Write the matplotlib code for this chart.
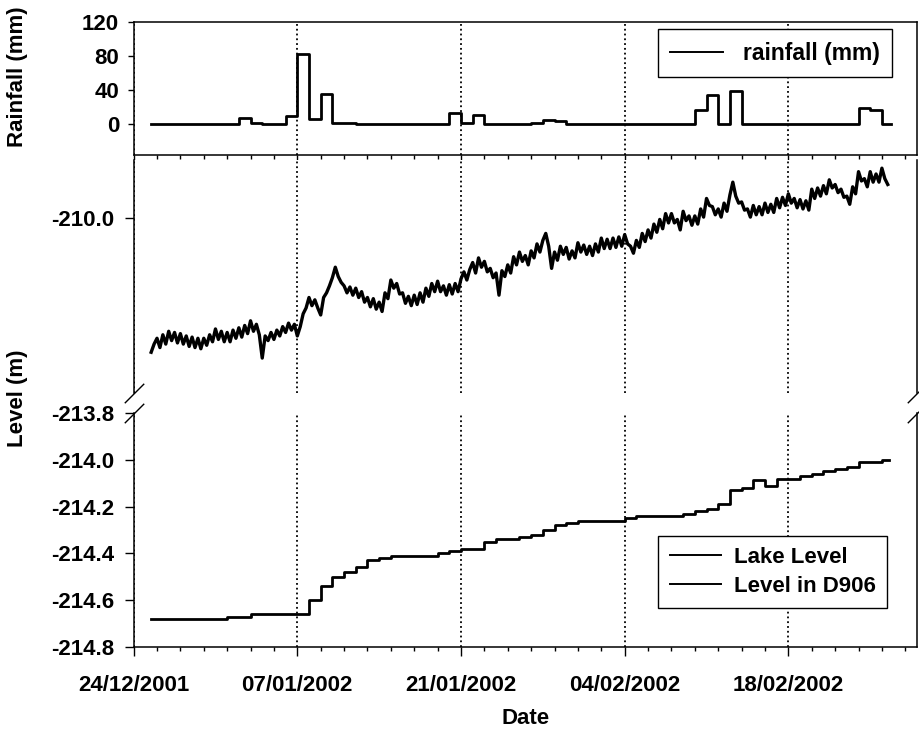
import numpy as np
import pandas as pd
import matplotlib
matplotlib.use('Agg')
import matplotlib.pyplot as plt
import matplotlib.dates as mdates
from matplotlib.ticker import FormatStrFormatter
from matplotlib.lines import Line2D

plt.rcParams['font.family'] = ['Liberation Sans', 'DejaVu Sans']
plt.rcParams['font.weight'] = 'bold'
plt.rcParams['font.size'] = 16

# ---------------- daily rainfall (mm), 25/12/2001 - 26/02/2002 ----------------
rain_mm = [0, 0, 0, 0, 0, 0, 0, 0, 8, 1.5,
           0, 0, 10, 82, 6, 35, 1.5, 1.5, 0, 0,
           0, 0, 0, 0, 0, 0, 13, 1, 11, 0,
           0, 0, 0, 2, 5, 4, 0, 0, 0, 0,
           0, 0, 0, 0, 0, 0, 0, 17, 34, 0,
           39, 0, 0, 0, 0, 0, 0, 0, 0, 0,
           0, 19.5, 17, 0]

# ---------------- daily lake level (m) ----------------
lake_level = [-214.68, -214.68, -214.68, -214.68, -214.68, -214.68, -214.68, -214.67, -214.67, -214.66,
              -214.66, -214.66, -214.66, -214.66, -214.60, -214.54, -214.50, -214.48, -214.46, -214.43,
              -214.42, -214.41, -214.41, -214.41, -214.41, -214.40, -214.39, -214.38, -214.38, -214.35,
              -214.34, -214.34, -214.33, -214.32, -214.30, -214.28, -214.27, -214.26, -214.26, -214.26,
              -214.26, -214.25, -214.24, -214.24, -214.24, -214.24, -214.23, -214.22, -214.21, -214.19,
              -214.13, -214.12, -214.085, -214.11, -214.08, -214.08, -214.07, -214.06, -214.05, -214.04,
              -214.03, -214.01, -214.01, -214.00]

# ---------------- water level in D906 (m), 6-hourly ----------------
d906_level = [
    -210.575, -210.540,
    -210.515, -210.555, -210.500, -210.540,
    -210.485, -210.525, -210.490, -210.535,
    -210.495, -210.540, -210.505, -210.550,
    -210.510, -210.555, -210.515, -210.560,
    -210.515, -210.545, -210.500, -210.530,
    -210.475, -210.520, -210.485, -210.530,
    -210.490, -210.530, -210.480, -210.515,
    -210.470, -210.510, -210.460, -210.495,
    -210.440, -210.485, -210.455, -210.500,
    -210.600, -210.505, -210.525, -210.490,
    -210.520, -210.480, -210.505, -210.465,
    -210.490, -210.450, -210.480, -210.455,
    -210.505, -210.465, -210.410, -210.385,
    -210.340, -210.375, -210.350, -210.385,
    -210.415, -210.340, -210.320, -210.290,
    -210.255, -210.210, -210.250, -210.275,
    -210.290, -210.320, -210.295, -210.330,
    -210.300, -210.340, -210.315, -210.360,
    -210.340, -210.380, -210.345, -210.390,
    -210.360, -210.400, -210.320, -210.345,
    -210.265, -210.300, -210.280, -210.325,
    -210.320, -210.365, -210.335, -210.375,
    -210.330, -210.370, -210.320, -210.360,
    -210.300, -210.335, -210.280, -210.315,
    -210.270, -210.315, -210.290, -210.330,
    -210.285, -210.325, -210.280, -210.315,
    -210.260, -210.230, -210.265, -210.220,
    -210.190, -210.235, -210.170, -210.210,
    -210.185, -210.230, -210.215, -210.255,
    -210.235, -210.330, -210.225, -210.250,
    -210.200, -210.235, -210.165, -210.200,
    -210.145, -210.185, -210.160, -210.200,
    -210.140, -210.170, -210.110, -210.145,
    -210.095, -210.065, -210.120, -210.215,
    -210.145, -210.180, -210.120, -210.155,
    -210.125, -210.175, -210.140, -210.170,
    -210.105, -210.145, -210.115, -210.155,
    -210.120, -210.160, -210.110, -210.145,
    -210.085, -210.130, -210.090, -210.130,
    -210.085, -210.125, -210.080, -210.120,
    -210.070, -210.110, -210.120, -210.150,
    -210.095, -210.125, -210.065, -210.100,
    -210.050, -210.085, -210.025, -210.060,
    -210.005, -210.045, -209.980, -210.020,
    -209.980, -210.020, -210.005, -210.050,
    -209.970, -210.010, -209.990, -210.030,
    -209.990, -210.025, -209.960, -209.995,
    -209.915, -209.945, -209.950, -209.985,
    -209.960, -209.995, -209.935, -209.970,
    -209.900, -209.845, -209.905, -209.935,
    -209.930, -209.965, -209.960, -209.995,
    -209.945, -209.985, -209.950, -209.985,
    -209.935, -209.975, -209.940, -209.975,
    -209.915, -209.955, -209.910, -209.945,
    -209.895, -209.935, -209.915, -209.955,
    -209.920, -209.960, -209.925, -209.965,
    -209.875, -209.915, -209.870, -209.905,
    -209.860, -209.895, -209.835, -209.870,
    -209.855, -209.890, -209.875, -209.910,
    -209.905, -209.940, -209.865, -209.895,
    -209.800, -209.840, -209.830, -209.865,
    -209.800, -209.845, -209.810, -209.845,
    -209.785, -209.830, -209.855]

# ---------------- time stamps ----------------
record_start = pd.Timestamp('2001-12-25 12:00')
day_starts = list(pd.date_range('2001-12-26', '2002-02-26', freq='D'))
rain_t = [record_start] + day_starts + [pd.Timestamp('2002-02-26 19:00')]
rain_v = rain_mm + [rain_mm[-1]]
lake_t = [record_start] + day_starts + [pd.Timestamp('2002-02-26 14:00')]
lake_v = lake_level + [lake_level[-1]]
d906_t = pd.date_range(record_start, periods=len(d906_level), freq='6h')

xmin, xmax = pd.Timestamp('2001-12-24'), pd.Timestamp('2002-03-01')
major_days = pd.date_range('2001-12-24', '2002-02-18', freq='14D')
minor_days = pd.date_range('2001-12-24', '2002-02-28', freq='2D')

# ---------------- figure ----------------
fig = plt.figure(figsize=(9.19, 7.33), dpi=100)
left, width = 0.1454, 0.8524
ax_r = fig.add_axes([left, 0.7885, width, 0.1815])   # rainfall
ax_w = fig.add_axes([left, 0.4638, width, 0.3179])   # D906
ax_l = fig.add_axes([left, 0.1173, width, 0.3193])   # lake

for ax in (ax_r, ax_w, ax_l):
    ax.set_xlim(xmin, xmax)
    ax.set_xticks(major_days)
    ax.set_xticks(minor_days, minor=True)
    ax.grid(axis='x', which='major', ls=':', color='k', lw=1.3)
    ax.tick_params(which='major', direction='out', length=6.5, width=1, pad=7.5)
    ax.tick_params(which='minor', direction='out', length=3, width=1)
    for s in ax.spines.values():
        s.set_linewidth(1.1)

# legend keys are drawn thinner than the data lines
key = dict(color='k', lw=1.4)

# rainfall panel
ax_r.plot(rain_t, rain_v, drawstyle='steps-post', color='k', lw=2)
ax_r.set_ylim(-36, 120)
ax_r.set_yticks([0, 40, 80, 120])
ax_r.tick_params(axis='y', length=4.5, pad=6)
ax_r.tick_params(axis='x', labelbottom=False)
ax_r.legend([Line2D([], [], **key)], ['rainfall (mm)'], loc='upper right',
            bbox_to_anchor=(0.9706, 0.9604), bbox_transform=fig.transFigure,
            borderaxespad=0, fancybox=False, edgecolor='k', framealpha=1, fontsize=16.5,
            handlelength=2.3, handletextpad=0.85, borderpad=0.55)

# D906 panel
ax_w.plot(d906_t, d906_level, color='k', lw=2.4)
ax_w.set_ylim(-210.75, -209.75)
ax_w.set_yticks([-210.0])
ax_w.yaxis.set_major_formatter(FormatStrFormatter('%.1f'))
ax_w.spines['top'].set_visible(False)
ax_w.spines['bottom'].set_visible(False)
ax_w.tick_params(axis='x', which='both', bottom=False, labelbottom=False)

# lake panel
ax_l.plot(lake_t, lake_v, drawstyle='steps-post', color='k', lw=2)
ax_l.set_ylim(-214.8, -213.8)
ax_l.set_yticks(np.arange(-214.8, -213.75, 0.2))
ax_l.yaxis.set_major_formatter(FormatStrFormatter('%.1f'))
ax_l.spines['top'].set_visible(False)
ax_l.xaxis.set_major_formatter(mdates.DateFormatter('%d/%m/%Y'))
ax_l.tick_params(axis='x', which='major', pad=14)
ax_l.legend([Line2D([], [], **key), Line2D([], [], **key)], ['Lake Level', 'Level in D906'],
            loc='upper right', bbox_to_anchor=(0.9652, 0.2688), bbox_transform=fig.transFigure,
            borderaxespad=0, fancybox=False, edgecolor='k', framealpha=1,
            handlelength=2.3, handletextpad=0.6, borderpad=0.5, labelspacing=0.35)
ax_l.set_xlabel('Date', labelpad=8, fontweight='bold')

# axis break marks
brk = dict(marker=[(-1, -1), (1, 1)], markersize=14, linestyle='none', color='k',
           mec='k', mew=1, clip_on=False)
ax_w.plot([0, 1], [0, 0], transform=ax_w.transAxes, **brk)
ax_l.plot([0, 1], [1, 1], transform=ax_l.transAxes, **brk)

fig.text(0.0185, 0.895, 'Rainfall (mm)', rotation=90, ha='center', va='center')
fig.text(0.0185, 0.457, 'Level (m)', rotation=90, ha='center', va='center')

fig.savefig('out.png', dpi=100)
